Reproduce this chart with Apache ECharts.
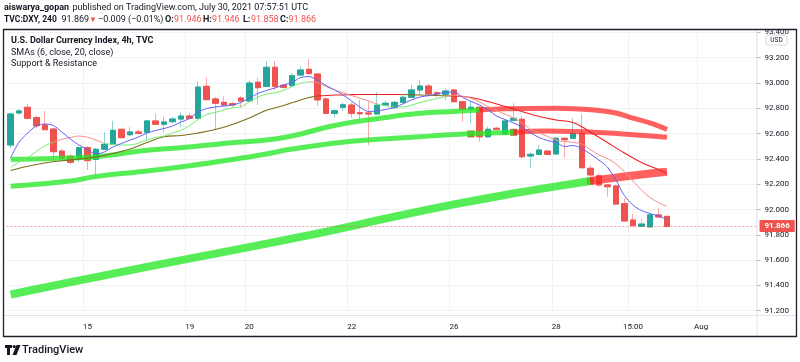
<!DOCTYPE html>
<html><head><meta charset="utf-8">
<script src="https://cdn.jsdelivr.net/npm/echarts@6/dist/echarts.min.js"></script>
<style>html,body{margin:0;padding:0;background:#fff;}#c{width:800px;height:362px;}</style>
</head><body><div id="c"></div>
<script>
// ---- data (4h candles, DXY) ----
const opens = [92.510,92.763,92.808,92.726,92.668,92.636,92.462,92.421,92.399,92.489,
92.397,92.476,92.515,92.634,92.591,92.613,92.610,92.700,92.674,92.694,
92.715,92.739,92.721,92.974,92.874,92.847,92.836,92.881,92.858,93.006,
92.974,93.124,92.982,92.979,93.063,93.108,93.071,92.874,92.760,92.808,
92.826,92.765,92.763,92.755,92.826,92.805,92.847,92.887,92.945,92.976,
92.923,92.911,92.945,92.852,92.792,92.808,92.575,92.642,92.597,92.705,
92.713,92.423,92.436,92.462,92.439,92.563,92.563,92.602,92.326,92.267,
92.194,92.186,92.046,91.917,91.867,91.862,91.957,91.946];
const closes = [92.755,92.779,92.721,92.662,92.631,92.457,92.405,92.373,92.489,92.386,
92.476,92.515,92.626,92.568,92.613,92.602,92.700,92.674,92.692,92.715,
92.739,92.721,92.968,92.868,92.840,92.826,92.826,92.858,93.000,92.963,
93.124,92.974,92.966,93.058,93.103,93.074,92.866,92.760,92.781,92.828,
92.760,92.757,92.755,92.824,92.840,92.847,92.887,92.945,92.976,92.913,
92.913,92.937,92.852,92.792,92.808,92.575,92.634,92.634,92.700,92.721,
92.417,92.436,92.470,92.436,92.563,92.552,92.602,92.330,92.273,92.194,
92.180,92.043,91.909,91.872,91.885,91.957,91.941,91.866];
const lows = [92.486,92.753,92.721,92.642,92.628,92.378,92.391,92.357,92.378,92.312,
92.273,92.470,92.510,92.563,92.576,92.594,92.542,92.668,92.610,92.681,
92.655,92.715,92.715,92.866,92.636,92.813,92.808,92.805,92.855,92.826,
92.968,92.945,92.953,92.966,93.055,93.067,92.818,92.755,92.726,92.779,
92.726,92.708,92.510,92.751,92.821,92.792,92.840,92.884,92.905,92.892,
92.884,92.866,92.847,92.694,92.681,92.536,92.568,92.628,92.589,92.694,
92.405,92.326,92.431,92.431,92.431,92.405,92.557,92.326,92.259,92.180,
92.101,92.036,91.904,91.867,91.864,91.859,91.933,91.858];
const highs = [92.763,92.794,92.832,92.742,92.781,92.644,92.478,92.436,92.496,92.502,
92.486,92.610,92.700,92.639,92.650,92.631,92.708,92.760,92.734,92.731,
92.768,92.765,93.016,93.042,92.889,92.895,92.852,92.895,93.016,93.042,
93.174,93.174,92.992,93.079,93.134,93.190,93.079,92.887,92.794,92.847,
92.847,92.866,92.852,92.929,92.860,92.860,92.905,92.984,93.024,92.992,
92.937,92.958,92.953,92.858,92.852,92.818,92.655,92.655,92.708,92.840,
92.739,92.452,92.510,92.470,92.576,92.571,92.721,92.753,92.352,92.286,
92.202,92.194,92.089,91.964,91.925,91.970,92.009,91.946];

const sma6 = [92.411,92.534,92.605,92.660,92.676,92.664,92.613,92.557,92.510,92.474,
92.439,92.455,92.494,92.522,92.549,92.573,92.605,92.625,92.640,92.660,
92.692,92.719,92.771,92.798,92.810,92.818,92.826,92.846,92.881,92.917,
92.941,92.960,92.984,93.004,93.043,93.051,93.020,92.980,92.945,92.905,
92.858,92.808,92.775,92.779,92.791,92.806,92.834,92.866,92.889,92.900,
92.913,92.925,92.929,92.889,92.854,92.826,92.787,92.739,92.711,92.684,
92.652,92.605,92.569,92.545,92.530,92.498,92.506,92.482,92.439,92.391,
92.336,92.233,92.111,92.036,91.992,91.968,91.949,91.921];
const sma20 = [92.332,92.376,92.411,92.459,92.502,92.534,92.555,92.569,92.581,92.571,
92.549,92.522,92.515,92.510,92.510,92.526,92.549,92.569,92.581,92.605,
92.628,92.664,92.711,92.751,92.768,92.787,92.804,92.812,92.850,92.889,
92.913,92.923,92.941,92.972,92.998,93.009,93.004,92.972,92.945,92.923,
92.901,92.879,92.858,92.834,92.820,92.810,92.810,92.824,92.846,92.862,
92.877,92.892,92.903,92.895,92.880,92.850,92.814,92.783,92.753,92.723,
92.688,92.632,92.605,92.577,92.549,92.538,92.530,92.518,92.474,92.431,
92.403,92.360,92.300,92.225,92.154,92.095,92.055,92.024];
const sma20Breaks = [5, 11, 35, 43, 51];
const sma50Idx = [0,2,4,6,8,10,12,14,16,18,20,22,24,26,28,30,32,34,35,36,38,40,42,44,46,48,50,52,54,56,58,60,62,64,66,68,70,72,74,76,77];
const sma50 = [92.308,92.342,92.368,92.385,92.399,92.415,92.443,92.478,92.530,92.575,92.585,92.605,92.632,92.672,92.723,92.784,92.822,92.866,92.885,92.897,92.905,92.908,92.909,92.909,92.909,92.905,92.901,92.897,92.885,92.854,92.814,92.775,92.735,92.708,92.688,92.613,92.530,92.447,92.372,92.316,92.285];
const sma50Breaks = [36, 46, 52];

const srAIdx = [0,5,10,16,20,25,30,33,38,44,48,52,55,58,64,69,71,73,75,77];
const srA = [92.397,92.404,92.417,92.468,92.488,92.522,92.549,92.581,92.664,92.727,92.760,92.775,92.787,92.796,92.800,92.783,92.763,92.723,92.684,92.632];
const srABreak = 55;
const srBIdx = [0,7,10,16,21,26,30,33,40,48,52,57,59,63,69,77];
const srB = [92.183,92.225,92.261,92.304,92.346,92.395,92.439,92.478,92.539,92.575,92.593,92.606,92.610,92.621,92.609,92.571];
const srBBreak = 59;
const srCIdx = [0,10,22,34,46,52,58,64,68,72,77];
const srC = [91.328,91.466,91.625,91.783,91.957,92.040,92.115,92.183,92.225,92.261,92.299];
const srCBreak = 68;
const markIdx = [54,59,68];
const markVal = [92.597,92.610,92.225];

const tickIdx = [9,21,28,40,52,64,73,81];
const tickLabels = ['15','19','20','22','26','28','15:00','Aug'];
const slotCount = 88;
const yMin = 91.2, yMax = 93.4, yStep = 0.2;
const lastClose = 91.866;

// ---- build ----
const cats = Array.from({length: slotCount}, (_, i) => String(i));
const labelOf = i => { const k = tickIdx.indexOf(i); return k >= 0 ? tickLabels[k] : ''; };
const wickData = opens.map((o, i) => [o, closes[i], lows[i], highs[i]]);
const bodyData = opens.map((o, i) => [o, closes[i], Math.min(o, closes[i]), Math.max(o, closes[i])]);
const pairs = (idx, vals) => idx.map((x, k) => [x, vals[k]]);
const seqIdx = vals => vals.map((v, i) => i);

// split one line into colour segments that share their boundary points
function segments(idx, vals, breaks, colors, width, smooth) {
  const out = [];
  const edges = [-Infinity, ...breaks, Infinity];
  for (let s = 0; s < edges.length - 1; s++) {
    const lo = edges[s], hi = edges[s + 1];
    const data = [];
    idx.forEach((x, k) => { if (x >= lo && x <= hi) data.push([x, vals[k]]); });
    if (data.length < 2) continue;
    out.push({type: 'line', data, symbol: 'none', smooth, silent: true,
      lineStyle: {width, color: colors[s % colors.length], cap: 'butt'}, itemStyle: {color: colors[s % colors.length]}});
  }
  return out;
}

const UP = '#26a69a', DN = '#ef5350';
const G = 'rgba(40,232,40,0.78)', R = 'rgba(255,35,35,0.72)';
const TXT = '#131722';
const FONT = 'Roboto, "Liberation Sans", sans-serif';

const series = [
  ...segments(srCIdx, srC, [srCBreak], [G, R], 8, 0.4),
  ...segments(srBIdx, srB, [srBBreak], [G, R], 5, 0.4),
  ...segments(srAIdx, srA, [srABreak], [G, R], 5, 0.4),
  {type: 'candlestick', data: wickData, barWidth: 6,
    itemStyle: {color: 'rgba(38,166,154,0.45)', color0: 'rgba(239,83,80,0.45)', borderColor: 'rgba(38,166,154,0.5)', borderColor0: 'rgba(239,83,80,0.5)', borderWidth: 1}},
  {type: 'candlestick', data: bodyData, barWidth: 6,
    itemStyle: {color: UP, color0: DN, borderColor: UP, borderColor0: DN, borderWidth: 1},
    markLine: {silent: true, symbol: 'none', data: [{yAxis: lastClose}],
      lineStyle: {color: 'rgba(239,83,80,0.55)', type: [2, 2], width: 1},
      label: {position: 'end', formatter: lastClose.toFixed(3), backgroundColor: '#ef5350', color: '#fff',
        fontSize: 8, fontWeight: 'bold', fontFamily: FONT, padding: [2, 5, 2, 5], distance: 3, borderRadius: 1}}},
  ...segments(sma50Idx, sma50, sma50Breaks, ['#7d6e18', '#f21f1f'], 1.1, 0.4),
  ...segments(seqIdx(sma20), sma20, sma20Breaks, ['#72ee72', '#f58c8c'], 1, 0.3),
  ...segments(seqIdx(sma6), sma6, [], ['#6262f5'], 1, 0.3),
  {type: 'scatter', data: pairs(markIdx, markVal), symbol: 'rect', symbolSize: 7, itemStyle: {color: '#a9682c', opacity: 0.9}, silent: true}
];

const txt = (x, y, text, font, fill) => ({type: 'text', x, y, z: 120, style: {text, font, fill: fill || TXT, verticalAlign: 'middle'}});
const RED = '#ef5350';

const chart = echarts.init(document.getElementById('c'), null, {renderer: 'canvas'});
chart.setOption({
  animation: false,
  backgroundColor: '#fff',
  grid: {left: 6.44, right: 43.5, top: 32.4, bottom: 51.3, containLabel: false},
  xAxis: {
    type: 'category', data: cats, boundaryGap: true,
    axisLine: {show: false}, axisTick: {show: false},
    axisLabel: {
      interval: (i) => tickIdx.includes(i), formatter: (v) => labelOf(Number(v)),
      margin: 12, fontSize: 8, color: TXT, fontFamily: FONT
    },
    splitLine: {show: true, interval: (i) => tickIdx.includes(i), lineStyle: {color: '#f0f2f6', width: 1}}
  },
  yAxis: {
    type: 'value', position: 'right', min: yMin, max: yMax, interval: yStep,
    axisLine: {show: false},
    axisTick: {show: true, length: 4, lineStyle: {color: '#b8bbc4'}},
    axisLabel: {margin: 8, fontSize: 8, color: TXT, fontFamily: FONT, formatter: v => v.toFixed(3)},
    splitLine: {lineStyle: {color: '#f0f2f6', width: 1}}
  },
  series,
  graphic: [
    txt(4, 8, 'aiswarya_gopan', 'bold 9px ' + FONT),
    txt(72.5, 8, 'published on TradingView.com, July 30, 2021 07:57:51 UTC', '9px ' + FONT),
    txt(4, 20, 'TVC:DXY, 240', 'bold 8.5px ' + FONT),
    txt(61.5, 20, '91.869', '9px ' + FONT),
    txt(89, 20, '▼', '8px ' + FONT, RED),
    txt(98, 20, '−0.009 (−0.01%)', '9px ' + FONT),
    txt(165, 20, 'O:', 'bold 9px ' + FONT), txt(174, 20, '91.946', '9px ' + FONT, RED),
    txt(203, 20, 'H:', 'bold 9px ' + FONT), txt(212, 20, '91.946', '9px ' + FONT, RED),
    txt(243, 20, 'L:', 'bold 9px ' + FONT), txt(251, 20, '91.858', '9px ' + FONT, RED),
    txt(280, 20, 'C:', 'bold 9px ' + FONT), txt(288.5, 20, '91.866', '9px ' + FONT, RED),
    txt(11, 41, 'U.S. Dollar Currency Index, 4h, TVC', 'bold 9px ' + FONT),
    txt(11, 52.5, 'SMAs (6, close, 20, close)', '9px ' + FONT),
    txt(11, 63.5, 'Support & Resistance', '9px ' + FONT),
    {type: 'rect', shape: {x: 758, y: 20, width: 38, height: 9}, style: {fill: '#fff'}, z: 100},
    {type: 'line', shape: {x1: 757, y1: 29, x2: 757, y2: 337}, style: {stroke: '#e0e3eb', lineWidth: 1}, z: 100},
    {type: 'line', shape: {x1: 3, y1: 315.5, x2: 797, y2: 315.5}, style: {stroke: '#e0e3eb', lineWidth: 1}, z: 100},
    {type: 'rect', shape: {x: 3.5, y: 29.5, width: 793, height: 307}, style: {fill: 'none', stroke: '#1e222d', lineWidth: 1.3}, z: 101},
    {type: 'rect', shape: {x: 766, y: 35, width: 21, height: 10, r: 2}, style: {fill: '#fff', stroke: '#d1d4dc', lineWidth: 1}, z: 102},
    {type: 'text', x: 776.5, y: 40.2, style: {text: 'USD', font: '6.5px ' + FONT, fill: TXT, align: 'center', verticalAlign: 'middle'}, z: 123},
    {type: 'polygon', shape: {points: [[5,345],[12,345],[12,348],[10,348],[10,355],[7,355],[7,348],[5,348]]}, style: {fill: TXT}},
    {type: 'circle', shape: {cx: 14.2, cy: 346.6, r: 1.6}, style: {fill: TXT}},
    {type: 'polygon', shape: {points: [[16.5,345],[20.5,345],[16.5,355],[12.5,355]]}, style: {fill: TXT}},
    txt(22, 350, 'TradingView', '500 11px ' + FONT)
  ]
});
</script></body></html>
